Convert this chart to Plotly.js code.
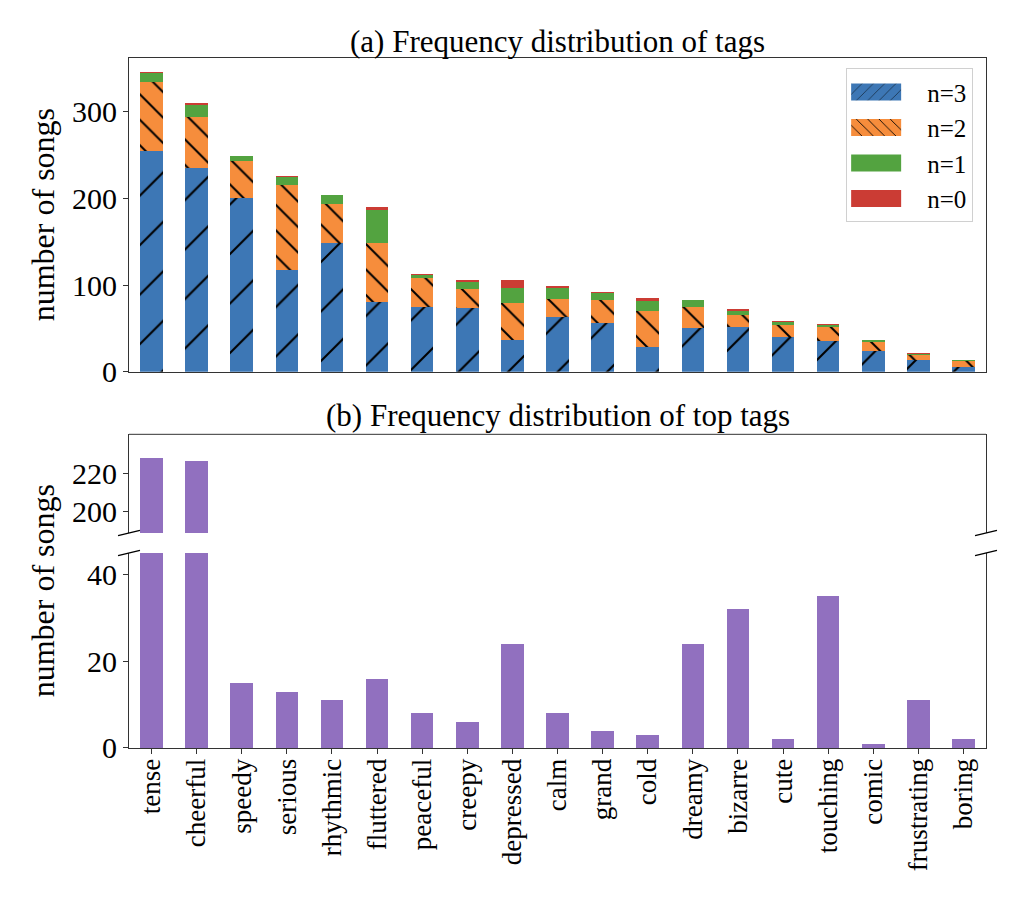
<!DOCTYPE html>
<html>
<head>
<meta charset="utf-8">
<script src="https://cdn.plot.ly/plotly-3.0.1.min.js"></script>
<style>html,body{margin:0;padding:0;background:#fff;}#chart{width:1016px;height:902px;}</style>
</head>
<body>
<div id="chart"></div>
<script>
// ---- data ----
const tags = ['tense','cheerful','speedy','serious','rhythmic','fluttered','peaceful','creepy','depressed','calm','grand','cold','dreamy','bizarre','cute','touching','comic','frustrating','boring'];
const n3 = [255,235,200,117,148,80,75,73,37,63,56,28,50,52,40,35,24,13,5];
const n2 = [79,59,43,98,46,69,33,22,42,21,27,42,25,13,14,16,10,6,7];
const n1 = [11,14,6,10,10,38,3,9,17,12,8,11,8,5,3,3,2,1,1];
const n0 = [1,2,0,1,0,3,2,2,10,3,1,4,0,2,2,1,0,1,0];
const topTags = [228,226,15,13,11,16,8,6,24,8,4,3,24,32,2,35,1,11,2];
const topTicks = [0,100,200,300];
const upperTicks = [200,220];
const lowerTicks = [0,20,40];

// ---- style ----
const FONT = 'Liberation Serif, Times New Roman, serif';
const C3 = '#3d77b5', C2 = '#f68d3c', C1 = '#53a340', C0 = '#cb3c34', CP = '#9170bf';
const AX = '#333333';

const dTop = [0.5454, 1];
const dUp = [0.3116, 0.4546];
const dLow = [0, 0.2826];

const traces = [
  {type:'bar', x:tags, y:n3, name:'n=3', xaxis:'x', yaxis:'y',
   marker:{color:C3, pattern:{shape:'/', size:35, solidity:0.06, fgcolor:'#000', fgopacity:1, fillmode:'overlay'}}},
  {type:'bar', x:tags, y:n2, name:'n=2', xaxis:'x', yaxis:'y',
   marker:{color:C2, pattern:{shape:'\\', size:18, solidity:0.11, fgcolor:'#000', fgopacity:1, fillmode:'overlay'}}},
  {type:'bar', x:tags, y:n1, name:'n=1', xaxis:'x', yaxis:'y', marker:{color:C1}},
  {type:'bar', x:tags, y:n0, name:'n=0', xaxis:'x', yaxis:'y', marker:{color:C0}},
  {type:'bar', x:tags, y:topTags, name:'top', xaxis:'x2', yaxis:'y2', showlegend:false, marker:{color:CP}},
  {type:'bar', x:tags, y:topTags, name:'top', xaxis:'x2', yaxis:'y3', showlegend:false, marker:{color:CP}}
];

const tickFont = {family:FONT, size:30, color:'#000'};
const yCommon = {showgrid:false, zeroline:false, showline:true, mirror:true, linecolor:AX, linewidth:1,
  ticks:'outside', ticklen:5, tickcolor:AX, tickfont:tickFont, tickmode:'array'};

// break marks and the top spine of the upper-bottom panel
const bx = 0.0128, by = 0.0038;
const shapes = [];
[dUp[0], dLow[1]].forEach(yb => {
  [0, 1].forEach(xb => {
    shapes.push({type:'line', xref:'paper', yref:'paper', x0:xb-bx, x1:xb+bx, y0:yb-by, y1:yb+by,
      line:{color:'#000', width:1.4}});
  });
});
shapes.push({type:'line', xref:'paper', yref:'paper', x0:0, x1:1, y0:dUp[1], y1:dUp[1], line:{color:AX, width:1}});

const layout = {
  width:1016, height:902,
  margin:{l:129, r:30, t:58, b:154},
  paper_bgcolor:'#fff', plot_bgcolor:'#fff',
  font:{family:FONT, color:'#000'},
  barmode:'stack', bargap:0.5,
  showlegend:true,
  legend:{x:0.985, xanchor:'right', y:0.985, yanchor:'top', traceorder:'normal',
    font:{family:FONT, size:25, color:'#000'}, bgcolor:'#fff', bordercolor:'#d0d0d0', borderwidth:1,
    itemwidth:70, tracegroupgap:0},
  xaxis:{domain:[0,1], anchor:'y', showticklabels:false, ticks:'', showline:true, mirror:true,
    linecolor:AX, linewidth:1, showgrid:false, zeroline:false, categoryorder:'array', categoryarray:tags},
  yaxis:Object.assign({}, yCommon, {domain:dTop, anchor:'x', range:[0,362], tickvals:topTicks}),
  xaxis2:{domain:[0,1], anchor:'y3', showline:true, linecolor:AX, linewidth:1, showgrid:false, zeroline:false,
    ticks:'outside', ticklen:5, tickcolor:AX, tickangle:-90, tickfont:{family:FONT, size:27, color:'#000'},
    ticklabelstandoff:-6, categoryorder:'array', categoryarray:tags},
  yaxis2:Object.assign({}, yCommon, {domain:dUp, anchor:'x2', range:[189,240], tickvals:upperTicks}),
  yaxis3:Object.assign({}, yCommon, {domain:dLow, anchor:'x2', range:[0,45], tickvals:lowerTicks}),
  shapes:shapes,
  annotations:[
    {text:'(a) Frequency distribution of tags', xref:'paper', yref:'paper', x:0.5, y:1.0232,
     xanchor:'center', yanchor:'middle', showarrow:false, font:{family:FONT, size:31, color:'#000'}},
    {text:'(b) Frequency distribution of top tags', xref:'paper', yref:'paper', x:0.5, y:0.4812,
     xanchor:'center', yanchor:'middle', showarrow:false, font:{family:FONT, size:31, color:'#000'}},
    {text:'number of songs', xref:'paper', yref:'paper', x:-0.1, y:0.7725, textangle:-90,
     xanchor:'center', yanchor:'middle', showarrow:false, font:{family:FONT, size:32, color:'#000'}},
    {text:'number of songs', xref:'paper', yref:'paper', x:-0.1, y:0.2275, textangle:-90,
     xanchor:'center', yanchor:'middle', showarrow:false, font:{family:FONT, size:32, color:'#000'}}
  ]
};

Plotly.newPlot('chart', traces, layout, {displayModeBar:false, staticPlot:true}).then(gd => {
  // widen the legend swatches to look like matplotlib's rectangles
  gd.querySelectorAll('.legend .legendpoints path').forEach(p => {
    p.setAttribute('d', 'M25,8.5H-25V-8.5H25Z');
    p.setAttribute('transform', 'translate(29,0)');
  });
});
</script>
</body>
</html>
